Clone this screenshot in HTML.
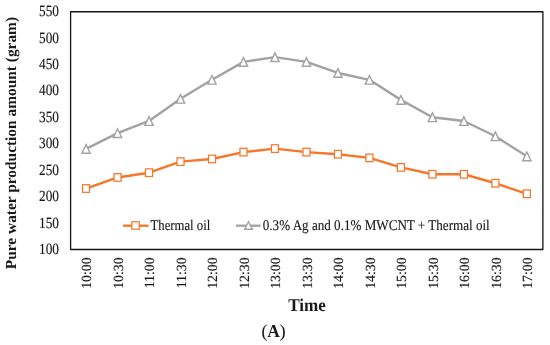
<!DOCTYPE html>
<html><head><meta charset="utf-8"><style>
html,body{margin:0;padding:0;background:#fff;}
body{width:550px;height:345px;overflow:hidden;}
svg{display:block;font-family:"Liberation Serif",serif;text-rendering:geometricPrecision;will-change:transform;}
</style></head><body>
<svg width="550" height="345" viewBox="0 0 550 345">
<g fill="#1a1a1a" stroke="#1a1a1a" stroke-width="0.15">
<rect x="70.6" y="11.75" width="472.30" height="237.75" fill="none" stroke="#151515" stroke-width="1.3" stroke-linejoin="round"/>
<text transform="translate(59,253.97) scale(0.86,1)" text-anchor="end" font-size="15.5">100</text>
<text transform="translate(59,227.54) scale(0.86,1)" text-anchor="end" font-size="15.5">150</text>
<text transform="translate(59,201.11) scale(0.86,1)" text-anchor="end" font-size="15.5">200</text>
<text transform="translate(59,174.68) scale(0.86,1)" text-anchor="end" font-size="15.5">250</text>
<text transform="translate(59,148.25) scale(0.86,1)" text-anchor="end" font-size="15.5">300</text>
<text transform="translate(59,121.82) scale(0.86,1)" text-anchor="end" font-size="15.5">350</text>
<text transform="translate(59,95.39) scale(0.86,1)" text-anchor="end" font-size="15.5">400</text>
<text transform="translate(59,68.96) scale(0.86,1)" text-anchor="end" font-size="15.5">450</text>
<text transform="translate(59,42.53) scale(0.86,1)" text-anchor="end" font-size="15.5">500</text>
<text transform="translate(59,16.10) scale(0.86,1)" text-anchor="end" font-size="15.5">550</text>
<text transform="translate(91.44,257.5) rotate(-90) scale(0.98,1)" text-anchor="end" font-size="14.0">10:00</text>
<text transform="translate(122.93,257.5) rotate(-90) scale(0.98,1)" text-anchor="end" font-size="14.0">10:30</text>
<text transform="translate(154.42,257.5) rotate(-90) scale(0.98,1)" text-anchor="end" font-size="14.0">11:00</text>
<text transform="translate(185.90,257.5) rotate(-90) scale(0.98,1)" text-anchor="end" font-size="14.0">11:30</text>
<text transform="translate(217.39,257.5) rotate(-90) scale(0.98,1)" text-anchor="end" font-size="14.0">12:00</text>
<text transform="translate(248.88,257.5) rotate(-90) scale(0.98,1)" text-anchor="end" font-size="14.0">12:30</text>
<text transform="translate(280.36,257.5) rotate(-90) scale(0.98,1)" text-anchor="end" font-size="14.0">13:00</text>
<text transform="translate(311.85,257.5) rotate(-90) scale(0.98,1)" text-anchor="end" font-size="14.0">13:30</text>
<text transform="translate(343.34,257.5) rotate(-90) scale(0.98,1)" text-anchor="end" font-size="14.0">14:00</text>
<text transform="translate(374.82,257.5) rotate(-90) scale(0.98,1)" text-anchor="end" font-size="14.0">14:30</text>
<text transform="translate(406.31,257.5) rotate(-90) scale(0.98,1)" text-anchor="end" font-size="14.0">15:00</text>
<text transform="translate(437.80,257.5) rotate(-90) scale(0.98,1)" text-anchor="end" font-size="14.0">15:30</text>
<text transform="translate(469.28,257.5) rotate(-90) scale(0.98,1)" text-anchor="end" font-size="14.0">16:00</text>
<text transform="translate(500.77,257.5) rotate(-90) scale(0.98,1)" text-anchor="end" font-size="14.0">16:30</text>
<text transform="translate(532.26,257.5) rotate(-90) scale(0.98,1)" text-anchor="end" font-size="14.0">17:00</text>
<polyline points="86.04,148.94 117.53,133.11 149.02,120.98 180.50,98.81 211.99,79.82 243.48,61.88 274.96,57.13 306.45,61.88 337.94,72.96 369.42,79.82 400.91,99.87 432.40,117.28 463.88,120.98 495.37,136.28 526.86,156.33" fill="none" stroke="#a2a2a2" stroke-width="2.4" stroke-linejoin="round"/>
<polyline points="86.04,188.52 117.53,177.44 149.02,172.69 180.50,161.61 211.99,158.97 243.48,152.11 274.96,148.57 306.45,152.11 337.94,154.22 369.42,157.91 400.91,167.41 432.40,174.27 463.88,174.27 495.37,183.24 526.86,193.79" fill="none" stroke="#f6762a" stroke-width="2.4" stroke-linejoin="round"/>
<rect x="82.54" y="184.72" width="7.0" height="7.6" fill="#fff" stroke="#f6762a" stroke-width="1.25"/>
<rect x="114.03" y="173.64" width="7.0" height="7.6" fill="#fff" stroke="#f6762a" stroke-width="1.25"/>
<rect x="145.52" y="168.89" width="7.0" height="7.6" fill="#fff" stroke="#f6762a" stroke-width="1.25"/>
<rect x="177.00" y="157.81" width="7.0" height="7.6" fill="#fff" stroke="#f6762a" stroke-width="1.25"/>
<rect x="208.49" y="155.17" width="7.0" height="7.6" fill="#fff" stroke="#f6762a" stroke-width="1.25"/>
<rect x="239.98" y="148.31" width="7.0" height="7.6" fill="#fff" stroke="#f6762a" stroke-width="1.25"/>
<rect x="271.46" y="144.77" width="7.0" height="7.6" fill="#fff" stroke="#f6762a" stroke-width="1.25"/>
<rect x="302.95" y="148.31" width="7.0" height="7.6" fill="#fff" stroke="#f6762a" stroke-width="1.25"/>
<rect x="334.44" y="150.42" width="7.0" height="7.6" fill="#fff" stroke="#f6762a" stroke-width="1.25"/>
<rect x="365.92" y="154.11" width="7.0" height="7.6" fill="#fff" stroke="#f6762a" stroke-width="1.25"/>
<rect x="397.41" y="163.61" width="7.0" height="7.6" fill="#fff" stroke="#f6762a" stroke-width="1.25"/>
<rect x="428.90" y="170.47" width="7.0" height="7.6" fill="#fff" stroke="#f6762a" stroke-width="1.25"/>
<rect x="460.38" y="170.47" width="7.0" height="7.6" fill="#fff" stroke="#f6762a" stroke-width="1.25"/>
<rect x="491.87" y="179.44" width="7.0" height="7.6" fill="#fff" stroke="#f6762a" stroke-width="1.25"/>
<rect x="523.36" y="189.99" width="7.0" height="7.6" fill="#fff" stroke="#f6762a" stroke-width="1.25"/>
<path d="M86.04,144.64 L90.19,153.29 L81.89,153.29 Z" fill="#fff" stroke="#a2a2a2" stroke-width="1.4"/>
<path d="M117.53,128.81 L121.68,137.46 L113.38,137.46 Z" fill="#fff" stroke="#a2a2a2" stroke-width="1.4"/>
<path d="M149.02,116.68 L153.17,125.33 L144.87,125.33 Z" fill="#fff" stroke="#a2a2a2" stroke-width="1.4"/>
<path d="M180.50,94.52 L184.65,103.16 L176.35,103.16 Z" fill="#fff" stroke="#a2a2a2" stroke-width="1.4"/>
<path d="M211.99,75.52 L216.14,84.17 L207.84,84.17 Z" fill="#fff" stroke="#a2a2a2" stroke-width="1.4"/>
<path d="M243.48,57.58 L247.63,66.23 L239.33,66.23 Z" fill="#fff" stroke="#a2a2a2" stroke-width="1.4"/>
<path d="M274.96,52.83 L279.11,61.48 L270.81,61.48 Z" fill="#fff" stroke="#a2a2a2" stroke-width="1.4"/>
<path d="M306.45,57.58 L310.60,66.23 L302.30,66.23 Z" fill="#fff" stroke="#a2a2a2" stroke-width="1.4"/>
<path d="M337.94,68.66 L342.09,77.31 L333.79,77.31 Z" fill="#fff" stroke="#a2a2a2" stroke-width="1.4"/>
<path d="M369.42,75.52 L373.57,84.17 L365.27,84.17 Z" fill="#fff" stroke="#a2a2a2" stroke-width="1.4"/>
<path d="M400.91,95.57 L405.06,104.22 L396.76,104.22 Z" fill="#fff" stroke="#a2a2a2" stroke-width="1.4"/>
<path d="M432.40,112.98 L436.55,121.63 L428.25,121.63 Z" fill="#fff" stroke="#a2a2a2" stroke-width="1.4"/>
<path d="M463.88,116.68 L468.03,125.33 L459.73,125.33 Z" fill="#fff" stroke="#a2a2a2" stroke-width="1.4"/>
<path d="M495.37,131.98 L499.52,140.63 L491.22,140.63 Z" fill="#fff" stroke="#a2a2a2" stroke-width="1.4"/>
<path d="M526.86,152.03 L531.01,160.68 L522.71,160.68 Z" fill="#fff" stroke="#a2a2a2" stroke-width="1.4"/>
<line x1="123.0" y1="225.7" x2="148.6" y2="225.7" stroke="#f6762a" stroke-width="2.3"/>
<rect x="131.80" y="221.80" width="7.4" height="7.4" fill="#fff" stroke="#f6762a" stroke-width="1.25"/>
<text transform="translate(150.5,230.3) scale(0.86,1)" font-size="14.8">Thermal oil</text>
<line x1="236" y1="225.7" x2="260.6" y2="225.7" stroke="#a2a2a2" stroke-width="2.3"/>
<path d="M248.50,221.80 L252.40,229.30 L244.60,229.30 Z" fill="#fff" stroke="#a2a2a2" stroke-width="1.4"/>
<text transform="translate(262.8,230.3) scale(0.885,1)" font-size="14.8">0.3% Ag and 0.1% MWCNT + Thermal oil</text>
<text transform="translate(15.7,143.05) rotate(-90)" text-anchor="middle" font-size="15.4" font-weight="bold" stroke-width="0">Pure water production amount (gram)</text>
<text transform="translate(307.1,310.8) scale(0.95,1)" text-anchor="middle" font-size="18" font-weight="bold" stroke-width="0">Time</text>
<text transform="translate(273.5,336.8) scale(0.97,1)" text-anchor="middle" font-size="18">(<tspan font-weight="bold" stroke-width="0">A</tspan>)</text>
</g>
</svg>
</body></html>
